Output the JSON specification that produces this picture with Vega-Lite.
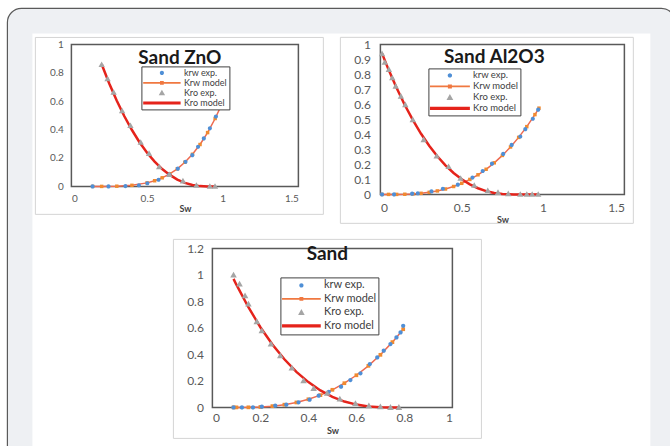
{
  "$schema": "https://vega.github.io/schema/vega-lite/v6.json",
  "background": "white",
  "padding": {"left": 6.4, "top": 7.4, "right": 0, "bottom": 0},
  "config": {
    "view": {"stroke": null},
    "font": "Lato",
    "title": {"font": "Lato", "fontSize": 19, "fontWeight": "bold", "color": "#1a1a1a", "anchor": "middle", "frame": "group", "baseline": "alphabetic"},
    "axis": {"ticks": false, "domain": false, "grid": false, "labelFont": "Lato", "labelColor": "#595959", "titleFont": "Lato", "titleFontWeight": "bold", "titleFontSize": 9, "titleColor": "#404040", "format": "~g"}
  },
  "datasets": {
    "zno": [
      {"s": "krw exp.", "sw": 0.14, "k": 0}, {"s": "krw exp.", "sw": 0.245, "k": 0}, {"s": "krw exp.", "sw": 0.357, "k": 0.002}, {"s": "krw exp.", "sw": 0.446, "k": 0.008}, {"s": "krw exp.", "sw": 0.502, "k": 0.022}, {"s": "krw exp.", "sw": 0.576, "k": 0.047}, {"s": "krw exp.", "sw": 0.647, "k": 0.083}, {"s": "krw exp.", "sw": 0.703, "k": 0.125}, {"s": "krw exp.", "sw": 0.754, "k": 0.173}, {"s": "krw exp.", "sw": 0.799, "k": 0.22}, {"s": "krw exp.", "sw": 0.837, "k": 0.279}, {"s": "krw exp.", "sw": 0.875, "k": 0.338}, {"s": "krw exp.", "sw": 0.915, "k": 0.409}, {"s": "krw exp.", "sw": 0.955, "k": 0.492}, {"s": "krw exp.", "sw": 0.982, "k": 0.555},
      {"s": "Kro exp.", "sw": 0.2, "k": 0.858}, {"s": "Kro exp.", "sw": 0.239, "k": 0.757}, {"s": "Kro exp.", "sw": 0.279, "k": 0.662}, {"s": "Kro exp.", "sw": 0.335, "k": 0.532}, {"s": "Kro exp.", "sw": 0.39, "k": 0.428}, {"s": "Kro exp.", "sw": 0.458, "k": 0.31}, {"s": "Kro exp.", "sw": 0.513, "k": 0.232}, {"s": "Kro exp.", "sw": 0.58, "k": 0.137}, {"s": "Kro exp.", "sw": 0.647, "k": 0.083}, {"s": "Kro exp.", "sw": 0.737, "k": 0.038}, {"s": "Kro exp.", "sw": 0.826, "k": 0.007}, {"s": "Kro exp.", "sw": 0.915, "k": 0}, {"s": "Kro exp.", "sw": 0.949, "k": 0},
      {"s": "Krw model", "sw": 0.14, "k": 0}, {"s": "Krw model", "sw": 0.2, "k": 0}, {"s": "Krw model", "sw": 0.3, "k": 0.0013}, {"s": "Krw model", "sw": 0.4, "k": 0.0076}, {"s": "Krw model", "sw": 0.5, "k": 0.0248}, {"s": "Krw model", "sw": 0.55, "k": 0.0398}, {"s": "Krw model", "sw": 0.6, "k": 0.0606}, {"s": "Krw model", "sw": 0.65, "k": 0.0884}, {"s": "Krw model", "sw": 0.7, "k": 0.124}, {"s": "Krw model", "sw": 0.75, "k": 0.17}, {"s": "Krw model", "sw": 0.8, "k": 0.226}, {"s": "Krw model", "sw": 0.85, "k": 0.295}, {"s": "Krw model", "sw": 0.9, "k": 0.379}, {"s": "Krw model", "sw": 0.95, "k": 0.478}, {"s": "Krw model", "sw": 0.99, "k": 0.57},
      {"s": "Kro model", "sw": 0.2, "k": 0.86}, {"s": "Kro model", "sw": 0.25, "k": 0.725}, {"s": "Kro model", "sw": 0.3, "k": 0.603}, {"s": "Kro model", "sw": 0.35, "k": 0.494}, {"s": "Kro model", "sw": 0.4, "k": 0.397}, {"s": "Kro model", "sw": 0.45, "k": 0.311}, {"s": "Kro model", "sw": 0.5, "k": 0.237}, {"s": "Kro model", "sw": 0.55, "k": 0.175}, {"s": "Kro model", "sw": 0.6, "k": 0.122}, {"s": "Kro model", "sw": 0.65, "k": 0.081}, {"s": "Kro model", "sw": 0.7, "k": 0.048}, {"s": "Kro model", "sw": 0.75, "k": 0.025}, {"s": "Kro model", "sw": 0.8, "k": 0.01}, {"s": "Kro model", "sw": 0.85, "k": 0.002}, {"s": "Kro model", "sw": 0.9, "k": 0}, {"s": "Kro model", "sw": 0.95, "k": 0}
    ],
    "al": [
      {"s": "krw exp.", "sw": 0.01, "k": 0}, {"s": "krw exp.", "sw": 0.084, "k": 0}, {"s": "krw exp.", "sw": 0.195, "k": 0.005}, {"s": "krw exp.", "sw": 0.23, "k": 0.008}, {"s": "krw exp.", "sw": 0.314, "k": 0.02}, {"s": "krw exp.", "sw": 0.384, "k": 0.038}, {"s": "krw exp.", "sw": 0.476, "k": 0.065}, {"s": "krw exp.", "sw": 0.566, "k": 0.112}, {"s": "krw exp.", "sw": 0.629, "k": 0.156}, {"s": "krw exp.", "sw": 0.686, "k": 0.205}, {"s": "krw exp.", "sw": 0.755, "k": 0.27}, {"s": "krw exp.", "sw": 0.807, "k": 0.33}, {"s": "krw exp.", "sw": 0.86, "k": 0.386}, {"s": "krw exp.", "sw": 0.891, "k": 0.435}, {"s": "krw exp.", "sw": 0.937, "k": 0.504}, {"s": "krw exp.", "sw": 0.97, "k": 0.565},
      {"s": "Kro exp.", "sw": 0.01, "k": 0.938}, {"s": "Kro exp.", "sw": 0.027, "k": 0.88}, {"s": "Kro exp.", "sw": 0.052, "k": 0.833}, {"s": "Kro exp.", "sw": 0.073, "k": 0.777}, {"s": "Kro exp.", "sw": 0.094, "k": 0.721}, {"s": "Kro exp.", "sw": 0.126, "k": 0.654}, {"s": "Kro exp.", "sw": 0.153, "k": 0.598}, {"s": "Kro exp.", "sw": 0.199, "k": 0.498}, {"s": "Kro exp.", "sw": 0.266, "k": 0.364}, {"s": "Kro exp.", "sw": 0.346, "k": 0.255}, {"s": "Kro exp.", "sw": 0.419, "k": 0.185}, {"s": "Kro exp.", "sw": 0.493, "k": 0.107}, {"s": "Kro exp.", "sw": 0.577, "k": 0.06}, {"s": "Kro exp.", "sw": 0.66, "k": 0.025}, {"s": "Kro exp.", "sw": 0.723, "k": 0.013}, {"s": "Kro exp.", "sw": 0.786, "k": 0.004}, {"s": "Kro exp.", "sw": 0.86, "k": 0}, {"s": "Kro exp.", "sw": 0.9, "k": 0}, {"s": "Kro exp.", "sw": 0.933, "k": 0}, {"s": "Kro exp.", "sw": 0.97, "k": 0},
      {"s": "Krw model", "sw": 0.01, "k": 0}, {"s": "Krw model", "sw": 0.05, "k": 0}, {"s": "Krw model", "sw": 0.1, "k": 0}, {"s": "Krw model", "sw": 0.15, "k": 0.001}, {"s": "Krw model", "sw": 0.2, "k": 0.0032}, {"s": "Krw model", "sw": 0.25, "k": 0.0073}, {"s": "Krw model", "sw": 0.3, "k": 0.0138}, {"s": "Krw model", "sw": 0.35, "k": 0.0232}, {"s": "Krw model", "sw": 0.4, "k": 0.036}, {"s": "Krw model", "sw": 0.45, "k": 0.0527}, {"s": "Krw model", "sw": 0.5, "k": 0.0738}, {"s": "Krw model", "sw": 0.55, "k": 0.0997}, {"s": "Krw model", "sw": 0.6, "k": 0.1307}, {"s": "Krw model", "sw": 0.65, "k": 0.1675}, {"s": "Krw model", "sw": 0.7, "k": 0.2104}, {"s": "Krw model", "sw": 0.75, "k": 0.2598}, {"s": "Krw model", "sw": 0.8, "k": 0.3163}, {"s": "Krw model", "sw": 0.85, "k": 0.3801}, {"s": "Krw model", "sw": 0.9, "k": 0.4518}, {"s": "Krw model", "sw": 0.95, "k": 0.532}, {"s": "Krw model", "sw": 0.975, "k": 0.575},
      {"s": "Kro model", "sw": 0.01, "k": 0.94}, {"s": "Kro model", "sw": 0.05, "k": 0.832}, {"s": "Kro model", "sw": 0.1, "k": 0.709}, {"s": "Kro model", "sw": 0.15, "k": 0.596}, {"s": "Kro model", "sw": 0.2, "k": 0.495}, {"s": "Kro model", "sw": 0.25, "k": 0.404}, {"s": "Kro model", "sw": 0.3, "k": 0.324}, {"s": "Kro model", "sw": 0.35, "k": 0.254}, {"s": "Kro model", "sw": 0.4, "k": 0.194}, {"s": "Kro model", "sw": 0.45, "k": 0.143}, {"s": "Kro model", "sw": 0.5, "k": 0.101}, {"s": "Kro model", "sw": 0.55, "k": 0.067}, {"s": "Kro model", "sw": 0.6, "k": 0.041}, {"s": "Kro model", "sw": 0.65, "k": 0.022}, {"s": "Kro model", "sw": 0.7, "k": 0.0096}, {"s": "Kro model", "sw": 0.75, "k": 0.0026}, {"s": "Kro model", "sw": 0.82, "k": 0}, {"s": "Kro model", "sw": 0.97, "k": 0}
    ],
    "sand": [
      {"s": "krw exp.", "sw": 0.088, "k": 0}, {"s": "krw exp.", "sw": 0.123, "k": 0}, {"s": "krw exp.", "sw": 0.169, "k": 0}, {"s": "krw exp.", "sw": 0.206, "k": 0.005}, {"s": "krw exp.", "sw": 0.262, "k": 0.013}, {"s": "krw exp.", "sw": 0.308, "k": 0.02}, {"s": "krw exp.", "sw": 0.359, "k": 0.038}, {"s": "krw exp.", "sw": 0.405, "k": 0.058}, {"s": "krw exp.", "sw": 0.443, "k": 0.088}, {"s": "krw exp.", "sw": 0.485, "k": 0.118}, {"s": "krw exp.", "sw": 0.536, "k": 0.156}, {"s": "krw exp.", "sw": 0.575, "k": 0.206}, {"s": "krw exp.", "sw": 0.617, "k": 0.257}, {"s": "krw exp.", "sw": 0.656, "k": 0.327}, {"s": "krw exp.", "sw": 0.687, "k": 0.377}, {"s": "krw exp.", "sw": 0.714, "k": 0.428}, {"s": "krw exp.", "sw": 0.742, "k": 0.478}, {"s": "krw exp.", "sw": 0.767, "k": 0.528}, {"s": "krw exp.", "sw": 0.784, "k": 0.566}, {"s": "krw exp.", "sw": 0.795, "k": 0.616},
      {"s": "Kro exp.", "sw": 0.088, "k": 0.999}, {"s": "Kro exp.", "sw": 0.113, "k": 0.931}, {"s": "Kro exp.", "sw": 0.136, "k": 0.843}, {"s": "Kro exp.", "sw": 0.15, "k": 0.78}, {"s": "Kro exp.", "sw": 0.185, "k": 0.647}, {"s": "Kro exp.", "sw": 0.206, "k": 0.579}, {"s": "Kro exp.", "sw": 0.244, "k": 0.478}, {"s": "Kro exp.", "sw": 0.283, "k": 0.39}, {"s": "Kro exp.", "sw": 0.331, "k": 0.297}, {"s": "Kro exp.", "sw": 0.38, "k": 0.201}, {"s": "Kro exp.", "sw": 0.422, "k": 0.143}, {"s": "Kro exp.", "sw": 0.478, "k": 0.106}, {"s": "Kro exp.", "sw": 0.531, "k": 0.063}, {"s": "Kro exp.", "sw": 0.596, "k": 0.03}, {"s": "Kro exp.", "sw": 0.652, "k": 0.013}, {"s": "Kro exp.", "sw": 0.7, "k": 0.005}, {"s": "Kro exp.", "sw": 0.742, "k": 0}, {"s": "Kro exp.", "sw": 0.777, "k": 0},
      {"s": "Krw model", "sw": 0.088, "k": 0}, {"s": "Krw model", "sw": 0.1, "k": 0}, {"s": "Krw model", "sw": 0.15, "k": 0.0005}, {"s": "Krw model", "sw": 0.2, "k": 0.0031}, {"s": "Krw model", "sw": 0.25, "k": 0.0094}, {"s": "Krw model", "sw": 0.3, "k": 0.0204}, {"s": "Krw model", "sw": 0.35, "k": 0.0373}, {"s": "Krw model", "sw": 0.4, "k": 0.0611}, {"s": "Krw model", "sw": 0.45, "k": 0.0926}, {"s": "Krw model", "sw": 0.5, "k": 0.1328}, {"s": "Krw model", "sw": 0.55, "k": 0.1825}, {"s": "Krw model", "sw": 0.6, "k": 0.2425}, {"s": "Krw model", "sw": 0.65, "k": 0.3137}, {"s": "Krw model", "sw": 0.7, "k": 0.3967}, {"s": "Krw model", "sw": 0.75, "k": 0.4925}, {"s": "Krw model", "sw": 0.795, "k": 0.59},
      {"s": "Kro model", "sw": 0.088, "k": 0.97}, {"s": "Kro model", "sw": 0.1, "k": 0.926}, {"s": "Kro model", "sw": 0.15, "k": 0.756}, {"s": "Kro model", "sw": 0.2, "k": 0.605}, {"s": "Kro model", "sw": 0.25, "k": 0.475}, {"s": "Kro model", "sw": 0.3, "k": 0.363}, {"s": "Kro model", "sw": 0.35, "k": 0.268}, {"s": "Kro model", "sw": 0.4, "k": 0.191}, {"s": "Kro model", "sw": 0.45, "k": 0.128}, {"s": "Kro model", "sw": 0.5, "k": 0.08}, {"s": "Kro model", "sw": 0.55, "k": 0.044}, {"s": "Kro model", "sw": 0.6, "k": 0.021}, {"s": "Kro model", "sw": 0.65, "k": 0.0069}, {"s": "Kro model", "sw": 0.7, "k": 0.0009}, {"s": "Kro model", "sw": 0.74, "k": 0}, {"s": "Kro model", "sw": 0.78, "k": 0}
    ]
  },
  "resolve": {"scale": {"color": "independent", "shape": "independent"}, "legend": {"color": "independent", "shape": "independent"}},
  "bounds": "flush",
  "spacing": 204,
  "vconcat": [
    {
      "bounds": "flush",
      "spacing": 82,
      "resolve": {"scale": {"color": "independent", "shape": "independent"}, "legend": {"color": "independent", "shape": "independent"}},
      "hconcat": [
        {
          "width": 227, "height": 142,
          "title": {"text": "Sand ZnO", "offset": -31, "dx": -5},
          "view": {"stroke": "#595959", "strokeWidth": 1.5},
          "layer": [
            {"data": {"values": [{"box": 1}]}, "mark": {"type": "rect", "filled": false, "stroke": "#d4d4d4", "strokeWidth": 1},
             "encoding": {
               "x": {"datum": -0.238, "type": "quantitative", "title": "Sw", "scale": {"domain": [0, 1.5], "nice": false, "zero": false}, "axis": {"values": [0, 0.5, 1, 1.5], "labelFontSize": 10, "labelPadding": 7, "titlePadding": 1}},
               "x2": {"datum": 1.665},
               "y": {"datum": 1.049, "type": "quantitative", "title": null, "scale": {"domain": [0, 1], "nice": false}, "axis": {"values": [0, 0.2, 0.4, 0.6, 0.8, 1], "labelFontSize": 10, "labelPadding": 8}},
               "y2": {"datum": -0.197}}},
            {
              "data": {"name": "zno"},
              "encoding": {
                "x": {"field": "sw", "type": "quantitative", "title": "Sw", "scale": {"domain": [0, 1.5], "nice": false, "zero": false}, "axis": {"values": [0, 0.5, 1, 1.5], "labelFontSize": 10, "labelPadding": 7, "titlePadding": 1}},
                "y": {"field": "k", "type": "quantitative", "title": null, "scale": {"domain": [0, 1], "nice": false}, "axis": {"values": [0, 0.2, 0.4, 0.6, 0.8, 1], "labelFontSize": 10, "labelPadding": 8}}
              },
              "layer": [
                {"transform": [{"filter": "datum.s === 'Krw model'"}], "mark": {"type": "line", "color": "#ee6a50", "strokeWidth": 1.5, "point": {"filled": true, "shape": "square", "size": 12, "color": "#f08a30"}}},
                {"transform": [{"filter": "datum.s === 'Kro model'"}], "mark": {"type": "line", "color": "#e5231b", "strokeWidth": 2.5}},
                {"transform": [{"filter": "datum.s === 'krw exp.' || datum.s === 'Kro exp.'"}],
                 "mark": {"type": "point", "filled": true, "opacity": 1, "size": 1400, "strokeWidth": 0},
                 "encoding": {
                   "color": {"field": "s", "type": "nominal", "scale": {"domain": ["krw exp.", "Krw model", "Kro exp.", "Kro model"], "range": ["#4f8fd6", "#f07840", "#a5a5a5", "#e5231b"]},
                     "legend": {"title": null, "orient": "none", "legendX": 70, "legendY": 22, "symbolSize": 1400, "clipHeight": 10, "rowPadding": 0, "padding": 1.5, "labelOffset": 3, "labelFont": "Lato", "labelFontSize": 9, "labelColor": "#404040", "strokeColor": "#404040", "fillColor": "#ffffff", "symbolStrokeWidth": 0, "symbolOpacity": 1}},
                   "shape": {"field": "s", "type": "nominal", "scale": {"domain": ["krw exp.", "Krw model", "Kro exp.", "Kro model"], "range": ["M-0.11,0A0.11,0.11 0 1,0 0.11,0A0.11,0.11 0 1,0 -0.11,0Z", "M-1,-0.045H-0.1V-0.1H0.1V-0.045H1V0.045H0.1V0.1H-0.1V0.045H-1Z", "M0,-0.17L0.17,0.13L-0.17,0.13Z", "M-1,-0.08H1V0.08H-1Z"]},
                     "legend": {"title": null, "orient": "none", "legendX": 70, "legendY": 22, "symbolSize": 1400, "clipHeight": 10, "rowPadding": 0, "padding": 1.5, "labelOffset": 3, "labelFont": "Lato", "labelFontSize": 9, "labelColor": "#404040", "strokeColor": "#404040", "fillColor": "#ffffff", "symbolStrokeWidth": 0, "symbolOpacity": 1}}
                 }}
              ]
            }
          ]
        },
        {
          "width": 244, "height": 150,
          "title": {"text": "Sand Al2O3", "offset": -30.5, "dx": -8},
          "view": {"stroke": "#595959", "strokeWidth": 1.5},
          "layer": [
            {"data": {"values": [{"box": 1}]}, "mark": {"type": "rect", "filled": false, "stroke": "#d4d4d4", "strokeWidth": 1},
             "encoding": {
               "x": {"datum": -0.246, "type": "quantitative", "title": "Sw", "scale": {"domain": [0, 1.5], "nice": false, "zero": false}, "axis": {"values": [0, 0.5, 1, 1.5], "labelFontSize": 12, "labelPadding": 8, "titlePadding": 2}},
               "x2": {"datum": 1.555},
               "y": {"datum": 1.047, "type": "quantitative", "title": null, "scale": {"domain": [0, 1], "nice": false}, "axis": {"values": [0, 0.1, 0.2, 0.3, 0.4, 0.5, 0.6, 0.7, 0.8, 0.9, 1], "labelFontSize": 12, "labelPadding": 10}},
               "y2": {"datum": -0.193}}},
            {
              "data": {"name": "al"},
              "encoding": {
                "x": {"field": "sw", "type": "quantitative", "title": "Sw", "scale": {"domain": [0, 1.5], "nice": false, "zero": false}, "axis": {"values": [0, 0.5, 1, 1.5], "labelFontSize": 12, "labelPadding": 8, "titlePadding": 2}},
                "y": {"field": "k", "type": "quantitative", "title": null, "scale": {"domain": [0, 1], "nice": false}, "axis": {"values": [0, 0.1, 0.2, 0.3, 0.4, 0.5, 0.6, 0.7, 0.8, 0.9, 1], "labelFontSize": 12, "labelPadding": 10}}
              },
              "layer": [
                {"transform": [{"filter": "datum.s === 'Krw model'"}], "mark": {"type": "line", "color": "#ee6a50", "strokeWidth": 1.5, "point": {"filled": true, "shape": "square", "size": 12, "color": "#f08a30"}}},
                {"transform": [{"filter": "datum.s === 'Kro model'"}], "mark": {"type": "line", "color": "#e5231b", "strokeWidth": 2.5}},
                {"transform": [{"filter": "datum.s === 'krw exp.' || datum.s === 'Kro exp.'"}],
                 "mark": {"type": "point", "filled": true, "opacity": 1, "size": 1400, "strokeWidth": 0},
                 "encoding": {
                   "color": {"field": "s", "type": "nominal", "scale": {"domain": ["krw exp.", "Krw model", "Kro exp.", "Kro model"], "range": ["#4f8fd6", "#f07840", "#a5a5a5", "#e5231b"]},
                     "legend": {"title": null, "orient": "none", "legendX": 48, "legendY": 24, "symbolSize": 1600, "clipHeight": 11, "rowPadding": 0, "padding": 1.5, "labelOffset": 3, "labelFont": "Lato", "labelFontSize": 9.5, "labelColor": "#404040", "strokeColor": "#404040", "fillColor": "#ffffff", "symbolStrokeWidth": 0, "symbolOpacity": 1}},
                   "shape": {"field": "s", "type": "nominal", "scale": {"domain": ["krw exp.", "Krw model", "Kro exp.", "Kro model"], "range": ["M-0.11,0A0.11,0.11 0 1,0 0.11,0A0.11,0.11 0 1,0 -0.11,0Z", "M-1,-0.045H-0.1V-0.1H0.1V-0.045H1V0.045H0.1V0.1H-0.1V0.045H-1Z", "M0,-0.17L0.17,0.13L-0.17,0.13Z", "M-1,-0.08H1V0.08H-1Z"]},
                     "legend": {"title": null, "orient": "none", "legendX": 48, "legendY": 24, "symbolSize": 1600, "clipHeight": 11, "rowPadding": 0, "padding": 1.5, "labelOffset": 3, "labelFont": "Lato", "labelFontSize": 9.5, "labelColor": "#404040", "strokeColor": "#404040", "fillColor": "#ffffff", "symbolStrokeWidth": 0, "symbolOpacity": 1}}
                 }}
              ]
            }
          ]
        }
      ]
    },
    {
      "bounds": "flush",
      "spacing": 82,
      "resolve": {"scale": {"color": "independent", "shape": "independent"}, "legend": {"color": "independent", "shape": "independent"}},
      "hconcat": [
        {
          "width": 59, "height": 10,
          "data": {"values": [{"frame": 1}]},
          "layer": [
            {"mark": {"type": "rect", "filled": false, "stroke": "#eef0f3", "strokeWidth": 25, "cornerRadius": 1.5},
             "encoding": {
               "x": {"datum": -0.8729, "type": "quantitative", "scale": {"domain": [0, 1], "nice": false, "zero": false}, "axis": null},
               "x2": {"datum": 10.025},
               "y": {"datum": 23.75, "type": "quantitative", "scale": {"domain": [0, 1], "nice": false, "zero": false}, "axis": null},
               "y2": {"datum": -20.05}}},
            {"mark": {"type": "rect", "filled": false, "stroke": "#5a5a5a", "strokeWidth": 1.2, "cornerRadius": 14},
             "encoding": {
               "x": {"datum": -1.0847, "type": "quantitative", "axis": null},
               "x2": {"datum": 10.237},
               "y": {"datum": 25, "type": "quantitative", "axis": null},
               "y2": {"datum": -21.3}}}
          ]
        },
        {
          "width": 240, "height": 159,
          "title": {"text": "Sand", "offset": -24.8, "dx": -5},
          "view": {"stroke": "#595959", "strokeWidth": 1.5},
          "layer": [
            {"data": {"values": [{"box": 1}]}, "mark": {"type": "rect", "filled": false, "stroke": "#d4d4d4", "strokeWidth": 1},
             "encoding": {
               "x": {"datum": -0.1625, "type": "quantitative", "title": "Sw", "scale": {"domain": [0, 1], "nice": false, "zero": false}, "axis": {"values": [0, 0.2, 0.4, 0.6, 0.8, 1], "labelFontSize": 12, "labelPadding": 5, "titlePadding": 3}},
               "x2": {"datum": 1.121},
               "y": {"datum": 1.268, "type": "quantitative", "title": null, "scale": {"domain": [0, 1.2], "nice": false}, "axis": {"values": [0, 0.2, 0.4, 0.6, 0.8, 1, 1.2], "labelFontSize": 12, "labelPadding": 9}},
               "y2": {"datum": -0.234}}},
            {
              "data": {"name": "sand"},
              "encoding": {
                "x": {"field": "sw", "type": "quantitative", "title": "Sw", "scale": {"domain": [0, 1], "nice": false, "zero": false}, "axis": {"values": [0, 0.2, 0.4, 0.6, 0.8, 1], "labelFontSize": 12, "labelPadding": 5, "titlePadding": 3}},
                "y": {"field": "k", "type": "quantitative", "title": null, "scale": {"domain": [0, 1.2], "nice": false}, "axis": {"values": [0, 0.2, 0.4, 0.6, 0.8, 1, 1.2], "labelFontSize": 12, "labelPadding": 9}}
              },
              "layer": [
                {"transform": [{"filter": "datum.s === 'Krw model'"}], "mark": {"type": "line", "color": "#ee6a50", "strokeWidth": 1.5, "point": {"filled": true, "shape": "square", "size": 14, "color": "#f08a30"}}},
                {"transform": [{"filter": "datum.s === 'Kro model'"}], "mark": {"type": "line", "color": "#e5231b", "strokeWidth": 2.5}},
                {"transform": [{"filter": "datum.s === 'krw exp.' || datum.s === 'Kro exp.'"}],
                 "mark": {"type": "point", "filled": true, "opacity": 1, "size": 1500, "strokeWidth": 0},
                 "encoding": {
                   "color": {"field": "s", "type": "nominal", "scale": {"domain": ["krw exp.", "Krw model", "Kro exp.", "Kro model"], "range": ["#4f8fd6", "#f07840", "#a5a5a5", "#e5231b"]},
                     "legend": {"title": null, "orient": "none", "legendX": 68, "legendY": 29, "symbolSize": 1500, "clipHeight": 13, "rowPadding": 0.5, "padding": 1.5, "labelOffset": 3, "labelFont": "Lato", "labelFontSize": 11, "labelColor": "#404040", "strokeColor": "#404040", "fillColor": "#ffffff", "symbolStrokeWidth": 0, "symbolOpacity": 1}},
                   "shape": {"field": "s", "type": "nominal", "scale": {"domain": ["krw exp.", "Krw model", "Kro exp.", "Kro model"], "range": ["M-0.11,0A0.11,0.11 0 1,0 0.11,0A0.11,0.11 0 1,0 -0.11,0Z", "M-1,-0.045H-0.1V-0.1H0.1V-0.045H1V0.045H0.1V0.1H-0.1V0.045H-1Z", "M0,-0.17L0.17,0.13L-0.17,0.13Z", "M-1,-0.08H1V0.08H-1Z"]},
                     "legend": {"title": null, "orient": "none", "legendX": 68, "legendY": 29, "symbolSize": 1500, "clipHeight": 13, "rowPadding": 0.5, "padding": 1.5, "labelOffset": 3, "labelFont": "Lato", "labelFontSize": 11, "labelColor": "#404040", "strokeColor": "#404040", "fillColor": "#ffffff", "symbolStrokeWidth": 0, "symbolOpacity": 1}}
                 }}
              ]
            }
          ]
        }
      ]
    }
  ]
}
